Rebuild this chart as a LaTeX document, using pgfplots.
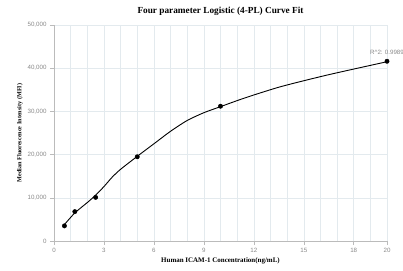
\documentclass[border=0pt]{standalone}
\usepackage{fontspec}
\setmainfont{Liberation Serif}
\newfontfamily\tickfont{Liberation Sans}
\usepackage{pgfplots}
\pgfplotsset{compat=1.18}
\definecolor{gridc}{HTML}{E3EAEE}
\definecolor{axc}{HTML}{BBBBBB}
\definecolor{tickc}{HTML}{888888}
\begin{document}
\begin{tikzpicture}
\path[use as bounding box] (-54bp,-30bp) rectangle (349bp,241bp);
\begin{axis}[
  at={(0,0)}, anchor=south west,
  scale only axis, width=333bp, height=216bp,
  xmin=0, xmax=20, ymin=0, ymax=50000,
  xtick={0,3,6,9,12,15,18,20}, minor xtick={1,2,4,5,7,8,10,11,13,14,16,17,19},
  ytick={0,10000,20000,30000,40000,50000},
  grid=both,
  major grid style={gridc, line width=0.5bp},
  minor grid style={gridc, line width=0.5bp},
  axis lines=left, axis line style={axc, -, line width=0.6bp},
  tick style={axc, line width=0.5bp},
  tick align=outside, major tick length=4bp, minor tick length=0pt,
  ticklabel style={font=\tickfont\fontsize{6.2}{7}\selectfont, text=tickc},
  /pgf/number format/assume math mode=true,
  /pgf/number format/1000 sep={,},
  scaled y ticks=false,
  title={\textbf{Four parameter Logistic (4-PL) Curve Fit}},
  title style={font=\fontsize{9.3}{10}\selectfont, yshift=0bp},
  xlabel={\textbf{Human ICAM-1 Concentration(ng/mL)}},
  ylabel={\textbf{Median Fluorescence Intensity (MFI)}},
  xlabel style={font=\fontsize{7}{8}\selectfont, yshift=2bp},
  ylabel style={font=\fontsize{6.2}{7}\selectfont, yshift=-2bp},
  clip=false,
]
\addplot[black, line width=0.9bp, smooth, tension=0.4] coordinates {
(0.625,3800) (1.25,6500) (2.0,8900) (2.5,10600) (3.0,12600) (3.5,14800) (4.0,16600) (5.0,19600) (6.0,22500) (7.0,25400) (8.0,27900) (9.0,29700) (10.0,31100) (11.0,32500) (12.0,33800) (13.5,35600) (15.0,37100) (16.5,38500) (18.0,39800) (20.0,41500)
};
\addplot[only marks, mark=*, mark size=2.2bp, black] coordinates {
(0.625,3500) (1.25,6800) (2.5,10100) (5,19500) (10,31200) (20,41600)
};
\node[anchor=south, font=\tickfont\fontsize{6.2}{7}\selectfont, text=tickc] at (axis cs:20,42400) {R\^{}2: 0.9989};
\end{axis}
\end{tikzpicture}
\end{document}
